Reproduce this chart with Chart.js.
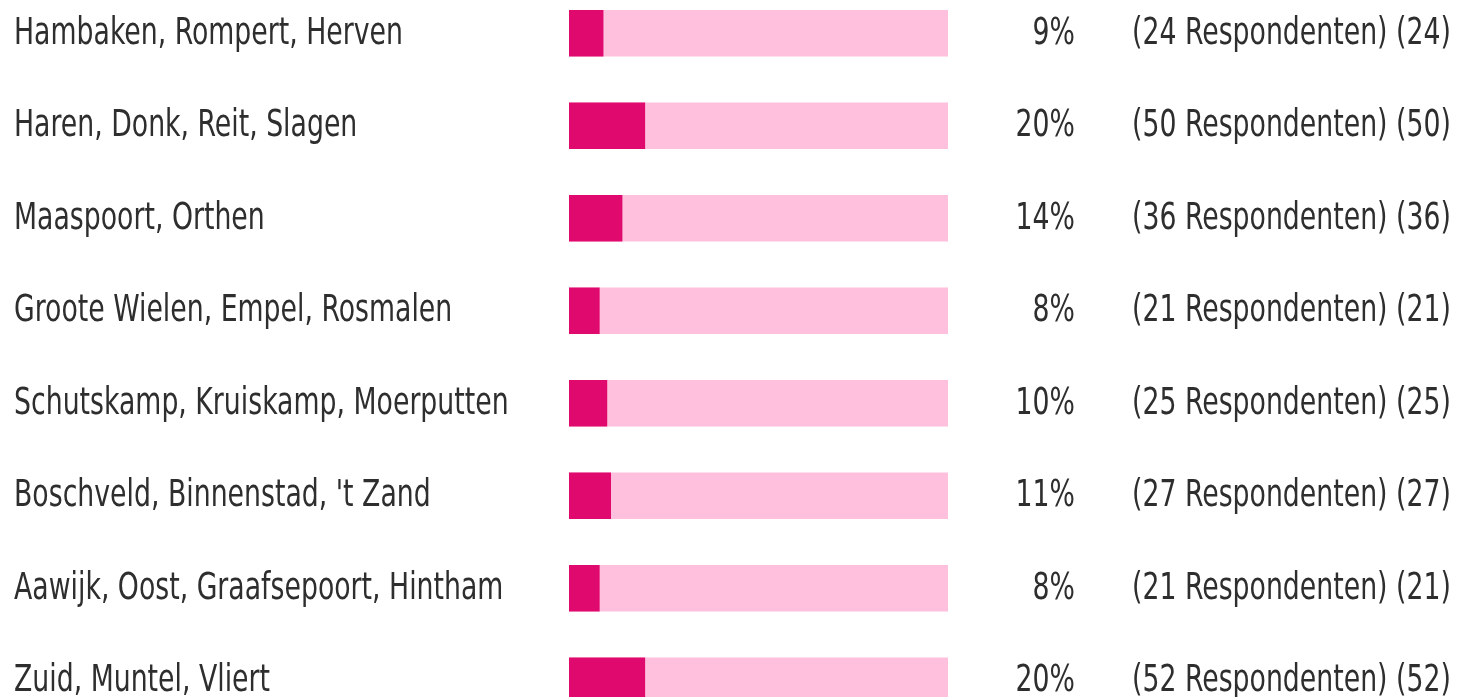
<!DOCTYPE html>
<html lang="nl">
<head>
<meta charset="UTF-8">
<title>Wijken</title>
<script src="https://cdn.jsdelivr.net/npm/chart.js"></script>
<style>
    html, body { margin: 0; padding: 0; background: #fff; overflow: hidden; }
    #wrap { position: absolute; left: 0; top: -13px; width: 1459px; height: 740px; }
</style>
</head>
<body>
<div id="wrap"><canvas id="wijkChart"></canvas></div>
<script>
    // gegevens
    const wijken = [
        'Hambaken, Rompert, Herven',
        'Haren, Donk, Reit, Slagen',
        'Maaspoort, Orthen',
        'Groote Wielen, Empel, Rosmalen',
        'Schutskamp, Kruiskamp, Moerputten',
        "Boschveld, Binnenstad, 't Zand",
        'Aawijk, Oost, Graafsepoort, Hintham',
        'Zuid, Muntel, Vliert'
    ];
    const percentages = [9, 20, 14, 8, 10, 11, 8, 20];
    const respondenten = [24, 50, 36, 21, 25, 27, 21, 52];
    const totaal = wijken.map(() => 100);

    const FONT = '37px "DejaVu Sans Condensed", "DejaVu Sans", sans-serif';

    // tekst links en rechts van de balken
    const tekstPlugin = {
        id: 'tekst',
        afterDraw(chart) {
            const ctx = chart.ctx;
            const y = chart.scales.y;
            ctx.save();
            ctx.font = FONT;
            ctx.fillStyle = '#2e2e2e';
            ctx.textBaseline = 'middle';
            const sx = 389 / ctx.measureText(wijken[0]).width;
            wijken.forEach((w, i) => {
                const py = y.getPixelForValue(i) + 1;
                ctx.save();
                ctx.translate(0, py);
                ctx.scale(sx, 1);
                ctx.textAlign = 'left';
                ctx.fillText(w, 14 / sx, 0);
                ctx.textAlign = 'right';
                ctx.fillText(percentages[i] + '%', 1075 / sx, 0);
                ctx.textAlign = 'left';
                ctx.fillText('(' + respondenten[i] + ' Respondenten) (' + respondenten[i] + ')', 1132 / sx, 0);
                ctx.restore();
            });
            ctx.restore();
        }
    };

    new Chart(document.getElementById('wijkChart'), {
        type: 'bar',
        data: {
            labels: wijken,
            datasets: [
                {
                    data: percentages,
                    backgroundColor: '#e0096e',
                    barThickness: 46,
                    grouped: false
                },
                {
                    data: totaal,
                    backgroundColor: '#ffc0de',
                    barThickness: 46,
                    grouped: false
                }
            ]
        },
        options: {
            indexAxis: 'y',
            responsive: true,
            maintainAspectRatio: false,
            animation: false,
            layout: { padding: { left: 569, right: 511, top: 0, bottom: 0 } },
            plugins: { legend: { display: false }, tooltip: { enabled: false } },
            scales: {
                x: { display: false, min: 0, max: 100 },
                y: { display: false }
            }
        },
        plugins: [tekstPlugin]
    });
</script>
</body>
</html>
